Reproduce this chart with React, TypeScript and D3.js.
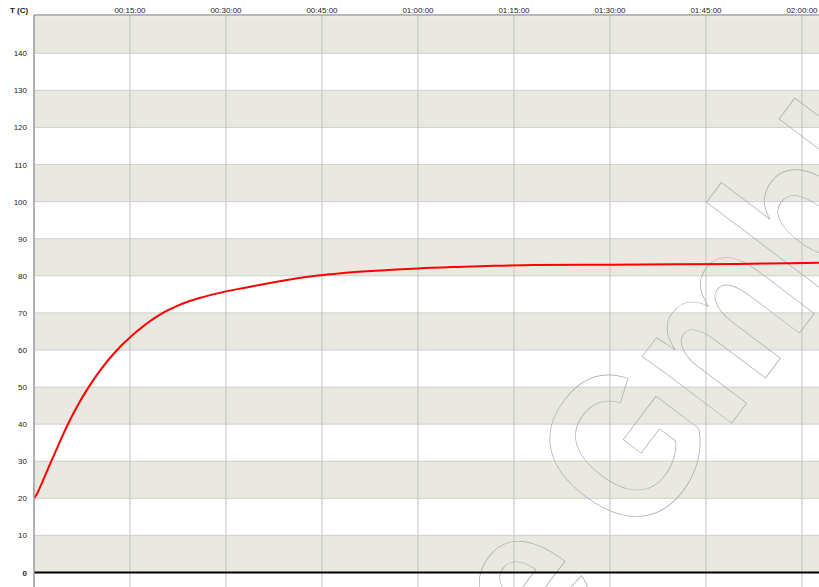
import React from "react";
import * as d3 from "d3";

const timeMin = [0, 0.5, 1, 2, 3, 4, 5, 6, 7, 8, 9, 10, 11, 12, 13, 14, 15, 16, 17, 18, 19, 20, 22, 24, 26, 28, 30, 33, 36, 40, 44, 48, 52, 56, 60, 66, 72, 78, 90, 100, 110, 118, 123];
const tempC = [20, 21.3, 23.2, 27.2, 31.2, 35.1, 38.9, 42.4, 45.6, 48.5, 51.2, 53.7, 56, 58.1, 60, 61.8, 63.4, 64.9, 66.3, 67.6, 68.8, 69.9, 71.6, 73.0, 74.1, 75.0, 75.8, 76.8, 77.8, 79.0, 80.0, 80.7, 81.2, 81.6, 82.0, 82.4, 82.7, 82.9, 83.0, 83.1, 83.2, 83.4, 83.5];

const xTickMinutes = [15, 30, 45, 60, 75, 90, 105, 120];
const xTickLabels = ["00:15:00", "00:30:00", "00:45:00", "01:00:00", "01:15:00", "01:30:00", "01:45:00", "02:00:00"];
const yTicks = [0, 10, 20, 30, 40, 50, 60, 70, 80, 90, 100, 110, 120, 130, 140];
const shadedBands = [[0, 10], [20, 30], [40, 50], [60, 70], [80, 90], [100, 110], [120, 130], [140, 150]];
const yTitle = "T (C)";

const W = 819, H = 587;
const left = 34, top = 15;

export default function App() {
  const x = d3.scaleLinear().domain([0, 120]).range([left, 802]);
  const y = d3.scaleLinear().domain([0, 150]).range([572.5, 16.2]);
  const pts = timeMin.map((t, i) => [t, tempC[i]] as [number, number]);
  const line = d3.line<[number, number]>().x(d => x(d[0])).y(d => y(d[1])).curve(d3.curveMonotoneX);
  const font = "'Liberation Sans', Arial, sans-serif";

  // watermark geometry
  const ang = -53;
  const rad = (ang * Math.PI) / 180;
  const gx = 639, gy = 546;
  const fs = 211;
  const sx = 0.86;
  const sp = 0.278 * fs * sx;
  const ex = gx - sp * Math.cos(rad), ey = gy - sp * Math.sin(rad);

  return (
    <svg width={W} height={H} style={{ position: "absolute", left: 0, top: 0, background: "#fff" }} fontFamily={font}>
      <defs>
        <clipPath id="plot">
          <rect x={left} y={top} width={W - left} height={H - top} />
        </clipPath>
      </defs>
      <g clipPath="url(#plot)">
        {shadedBands.map(([a, b], i) => (
          <rect key={i} x={left} y={Math.max(top, y(b))} width={W - left} height={y(a) - Math.max(top, y(b))} fill="#e9e8e1" />
        ))}
        {yTicks.slice(1).map(v => (
          <line key={v} x1={left} x2={W} y1={y(v)} y2={y(v)} stroke="#cfcfcf" strokeWidth={1} />
        ))}
        {xTickMinutes.map(t => (
          <line key={t} x1={x(t)} x2={x(t)} y1={top} y2={H} stroke="#c2c2c2" strokeWidth={1} />
        ))}
        <g fill="none" stroke="#a8a8a8" strokeWidth={0.7} fontFamily={font} fontWeight="bold" fontSize={fs}>
          <text transform={`translate(${gx},${gy}) rotate(${ang}) scale(${sx},1)`}>GmbH</text>
          <text transform={`translate(${ex},${ey}) rotate(${ang}) scale(${sx},1)`} textAnchor="end">e</text>
        </g>
        <path d={line(pts) || ""} fill="none" stroke="#ff0000" strokeWidth={2} />
        <line x1={left} x2={W} y1={y(0)} y2={y(0)} stroke="#000" strokeWidth={2} />
      </g>
      <line x1={left} x2={W} y1={top} y2={top} stroke="#a0a0a0" strokeWidth={1.5} />
      <line x1={left} x2={left} y1={top} y2={H} stroke="#999" strokeWidth={1.5} />
      {xTickMinutes.map((t, i) => (
        <text key={t} x={x(t)} y={12.5} fontSize={8} textAnchor="middle" fill="#222">{xTickLabels[i]}</text>
      ))}
      {yTicks.map(v => (
        <text key={v} x={27} y={y(v) + 3} fontSize={8} textAnchor="end" fill="#222" fontWeight={v === 0 ? "bold" : "normal"}>{v}</text>
      ))}
      <text x={10} y={13} fontSize={8} fontWeight="bold" fill="#111">{yTitle}</text>
    </svg>
  );
}
